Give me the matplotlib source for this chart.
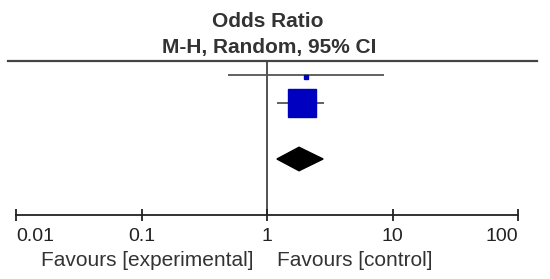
import numpy as np
import matplotlib.pyplot as plt
from matplotlib.patches import Polygon

plt.rcParams['font.family'] = ['Liberation Sans', 'DejaVu Sans']

# studies: odds ratio, 95% CI, weight (%)
or_est = [2.05, 1.89]
or_lo = [0.49, 1.2]
or_hi = [8.6, 2.86]
weights = [2.9, 97.1]

# pooled (M-H, random)
pool_est = 1.8
pool_lo = 1.2
pool_hi = 2.8

tick_vals = [0.01, 0.1, 1, 10, 100]
tick_labels = ['0.01', '0.1', '1', '10', '100']

W, H = 550, 279
fig = plt.figure(figsize=(W / 100, H / 100), dpi=100)
# axes between the 0.01 and 100 ticks, from the top rule to the axis line
ax = fig.add_axes([16 / W, (H - 215) / H, 502 / W, (215 - 61) / H])
ax.set_xscale('log')
ax.set_xlim(0.01, 100)
ax.set_ylim(6.0, 0.5)

line_c = '#444444'
rows = [1, 2]
for r, est, lo, hi, w in zip(rows, or_est, or_lo, or_hi, weights):
    ax.plot([lo, hi], [r, r], color='#555555', lw=1.3, solid_capstyle='butt', zorder=2)
    ax.plot(est, r + 0.08 * (w < 50), marker='s', ms=np.sqrt(w) * 2.1, color='#0000c0',
            mec='#0000c0', zorder=3)

# pooled diamond
yd = 4.0
hd = 0.42
ax.add_patch(Polygon([[pool_lo, yd], [pool_est, yd - hd], [pool_hi, yd], [pool_est, yd + hd]],
                     closed=True, facecolor='black', edgecolor='black', zorder=3))

ax.axvline(1, color=line_c, lw=1.3, zorder=1)
ax.axhline(0.5, xmin=-8 / 502, xmax=(537 - 16) / 502, color=line_c, lw=1.6, clip_on=False)

for s in ['top', 'left', 'right']:
    ax.spines[s].set_visible(False)
ax.spines['bottom'].set_color('#222222')
ax.spines['bottom'].set_linewidth(1.3)
ax.set_yticks([])
ax.set_xticks(tick_vals)
ax.set_xticklabels(tick_labels)
ax.minorticks_off()
ax.tick_params(axis='x', direction='inout', length=9, width=1.3, color='#222222',
               labelsize=14, labelcolor='#222222', pad=5)
labs = ax.get_xticklabels()
labs[0].set_ha('left')
labs[-1].set_ha('right')

ax.annotate('Favours [experimental]', xy=(1, 0), xycoords=('data', 'axes fraction'),
            xytext=(-10, -37), textcoords='offset points', ha='right', va='baseline',
            fontsize=15, color='#333333')
ax.annotate('Favours [control]', xy=(1, 0), xycoords=('data', 'axes fraction'),
            xytext=(7.2, -37), textcoords='offset points', ha='left', va='baseline',
            fontsize=15, color='#333333')

fig.text(268 / W, 1 - 27 / H, 'Odds Ratio', ha='center', va='baseline',
         fontsize=15, fontweight='bold', color='#333333')
fig.text(269 / W, 1 - 53 / H, 'M-H, Random, 95% CI', ha='center', va='baseline',
         fontsize=15, fontweight='bold', color='#333333')

fig.savefig('out.png', dpi=100)
